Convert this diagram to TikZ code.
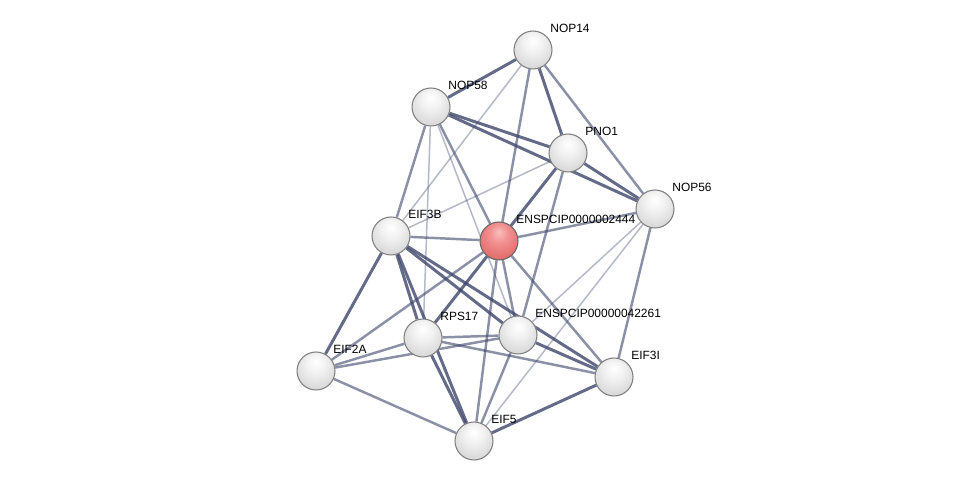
\documentclass[tikz,border=0pt]{standalone}
\usepackage{fontspec}
\setsansfont{Liberation Sans}
\usetikzlibrary{backgrounds}
\definecolor{edgecol}{RGB}{62,70,108}
\pgfdeclareradialshading{greyball}{\pgfpoint{0bp}{12bp}}{%
  color(0bp)=(white); color(12bp)=(white!95!black); color(28bp)=(white!86!black);
  color(42bp)=(white!78!black); color(52bp)=(white!70!black); color(64bp)=(white!58!black)}
\pgfdeclareradialshading{redball}{\pgfpoint{0bp}{12bp}}{%
  color(0bp)=(rgb,255:red,250;green,190;blue,190); color(12bp)=(rgb,255:red,242;green,145;blue,145);
  color(28bp)=(rgb,255:red,228;green,112;blue,112); color(42bp)=(rgb,255:red,212;green,92;blue,92);
  color(52bp)=(rgb,255:red,195;green,75;blue,75); color(64bp)=(rgb,255:red,165;green,55;blue,55)}
\tikzset{
  protein/.style={circle,minimum size=0.76cm,inner sep=0pt,draw=black!50,line width=0.6pt,shading=greyball},
  query/.style={protein,draw=black!60,shading=redball},
  lbl/.style={font=\sffamily\fontsize{6.8}{8}\selectfont,inner sep=1pt,label distance=1.2pt},
  strong/.style={edgecol,line width=1.7pt,opacity=.8},
  medium/.style={edgecol,line width=1.4pt,opacity=.6},
  weak/.style={edgecol,line width=0.85pt,opacity=.38}
}
\begin{document}
\begin{tikzpicture}[x=0.02cm,y=-0.02cm,line cap=round]
  \useasboundingbox (0,0) rectangle (975,486);
  \node[protein,label={[lbl]45:NOP14}] (nop14) at (533,50) {};
  \node[protein,label={[lbl]45:NOP58}] (nop58) at (431,107) {};
  \node[protein,label={[lbl]45:PNO1}] (pno1) at (568,153) {};
  \node[protein,label={[lbl]45:EIF3B}] (eif3b) at (391,236) {};
  \node[query,label={[lbl]45:ENSPCIP0000002444}] (ensp24) at (499,241) {};
  \node[protein,label={[lbl]45:NOP56}] (nop56) at (655,209) {};
  \node[protein,label={[lbl]45:ENSPCIP00000042261}] (ensp42) at (518,335) {};
  \node[protein,label={[lbl]45:RPS17}] (rps17) at (423,338) {};
  \node[protein,label={[lbl]45:EIF2A}] (eif2a) at (316,371) {};
  \node[protein,label={[lbl]45:EIF3I}] (eif3i) at (614,377) {};
  \node[protein,label={[lbl]45:EIF5}] (eif5) at (474,441) {};
  \begin{scope}[on background layer]
    \fill[white] (0,0) rectangle (975,486);
    \foreach \a/\b in {nop14/eif3b,nop58/rps17,nop58/ensp42,pno1/eif3b,nop56/ensp42,nop56/eif5}
      \draw[weak] (\a) -- (\b);
    \foreach \a/\b in {nop14/nop56,nop14/ensp24,nop58/eif3b,nop58/ensp24,pno1/ensp42,nop56/eif3i,nop56/ensp24,
                       ensp24/eif3b,ensp24/eif2a,ensp24/ensp42,ensp24/eif5,ensp24/eif3i,ensp42/eif5,
                       rps17/eif2a,rps17/eif3i,rps17/ensp42,eif2a/ensp42,eif2a/eif5}
      \draw[medium] (\a) -- (\b);
    \foreach \a/\b in {nop14/nop58,nop14/pno1,nop58/pno1,nop58/nop56,pno1/nop56,pno1/ensp24,eif3b/eif2a,
                       eif3b/rps17,eif3b/ensp42,eif3b/eif3i,eif3b/eif5,ensp24/rps17,rps17/eif5,ensp42/eif3i,eif3i/eif5}
      \draw[strong] (\a) -- (\b);
  \end{scope}
\end{tikzpicture}
\end{document}
